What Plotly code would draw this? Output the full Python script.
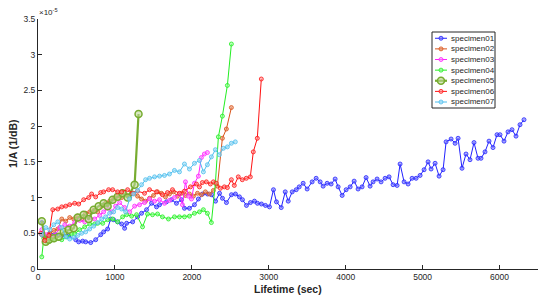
import plotly.graph_objects as go

# values in units of 1e-5 (1/dB); lifetime in seconds
s01_x = [49, 88, 153, 231, 309, 361, 399, 490, 529, 581, 620, 685, 750, 815, 853, 905, 944, 983, 1035, 1087, 1126,
         1152, 1230, 1294, 1346, 1411, 1476, 1541, 1580, 1670, 1735, 1800, 1865, 1904, 1969, 2034, 2085,
         2139, 2204, 2256, 2308, 2360, 2398, 2450, 2515, 2567, 2619, 2658, 2710, 2762, 2814, 2853, 2905, 2957, 3009,
         3061, 3100, 3162, 3214, 3253, 3305, 3357, 3396, 3447, 3499, 3564, 3616, 3668, 3707, 3759, 3811, 3863, 3902,
         3954, 4006, 4058, 4110, 4161, 4213, 4265, 4317, 4356, 4408, 4460, 4512, 4564, 4616, 4668, 4707, 4759, 4811,
         4863, 4915, 4967, 5019, 5071, 5110, 5162, 5214, 5266, 5305, 5370, 5422, 5461, 5512, 5564, 5616, 5668, 5720,
         5759, 5811, 5863, 5915, 5967, 6006, 6058, 6110, 6162, 6214, 6266, 6318]
s01_y = [0.65, 0.45, 0.50, 0.48, 0.47, 0.46, 0.46, 0.41, 0.38, 0.39, 0.38, 0.37, 0.41, 0.48, 0.52, 0.56, 0.70, 0.69, 0.66, 0.63, 0.57,
         0.64, 0.66, 0.73, 0.78, 0.83, 0.92, 0.87, 0.90, 0.94, 0.97, 0.92, 0.97, 0.85, 0.85, 0.90, 0.98,
         1.05, 1.05, 1.04, 0.95, 1.06, 0.99, 0.93, 1.04, 1.05, 1.01, 0.97, 0.89, 0.93, 0.95, 0.92, 0.91, 0.89, 0.87,
         1.11, 0.94, 0.86, 1.08, 0.95, 1.08, 1.11, 1.15, 1.20, 1.12, 1.22, 1.27, 1.22, 1.16, 1.20, 1.19, 1.26, 1.15,
         1.03, 1.11, 1.15, 1.23, 1.12, 1.15, 1.28, 1.16, 1.22, 1.26, 1.22, 1.27, 1.29, 1.18, 1.17, 1.47, 1.22, 1.19,
         1.27, 1.27, 1.31, 1.39, 1.50, 1.40, 1.48, 1.30, 1.39, 1.78, 1.82, 1.76, 1.83, 1.41, 1.61, 1.53, 1.77, 1.55,
         1.55, 1.64, 1.79, 1.70, 1.88, 1.88, 1.79, 1.92, 1.95, 1.86, 2.02, 2.09]

s02_x = [49, 101, 153, 205, 257, 309, 361, 412, 464, 516, 568, 620, 672, 724, 776, 828, 879, 931, 983, 1035, 1087,
         1139, 1191, 1243, 1294, 1346, 1398, 1450, 1502, 1554, 1605, 1657, 1709, 1761, 1813, 1865, 1917, 1969,
         2020, 2073, 2124, 2176, 2228, 2280, 2332, 2397, 2449, 2514]
s02_y = [0.48, 0.45, 0.50, 0.54, 0.56, 0.70, 0.67, 0.72, 0.70, 0.74, 0.70, 0.78, 0.80, 0.82, 0.80, 0.88, 0.92, 0.95, 0.98, 1.02, 1.00,
         1.04, 1.00, 1.06, 1.02, 0.98, 0.95, 0.99, 1.03, 1.08, 1.06, 1.01, 1.05, 1.08, 1.02, 1.06, 1.03, 1.05,
         1.02, 1.06, 1.04, 1.08, 1.05, 1.10, 1.16, 1.83, 1.96, 2.26]

s03_x = [49, 101, 153, 218, 283, 348, 412, 477, 542, 607, 672, 737, 802, 853, 905, 957, 1009, 1061, 1126, 1191,
         1256, 1320, 1385, 1450, 1515, 1580, 1644, 1709, 1774, 1839, 1878, 1917, 1956, 1995, 2034, 2085, 2124, 2163, 2202]
s03_y = [0.55, 0.48, 0.42, 0.47, 0.58, 0.62, 0.60, 0.65, 0.68, 0.66, 0.72, 0.70, 0.75, 0.80, 0.85, 0.80, 0.88, 0.93, 0.86, 0.80,
         0.88, 0.90, 0.93, 0.98, 0.95, 0.97, 0.92, 0.96, 1.00, 1.05, 0.90, 1.22, 1.02, 0.98, 1.20, 1.30, 1.56, 1.61, 1.63]

s04_x = [49, 75, 153, 218, 309, 374, 438, 477, 542, 607, 672, 737, 776, 841, 905, 970, 1035, 1100, 1152, 1217,
         1281, 1359, 1424, 1489, 1554, 1618, 1696, 1774, 1839, 1904, 1969, 2034, 2099, 2150, 2202, 2254, 2306,
         2345, 2397, 2462, 2514]
s04_y = [0.17, 0.43, 0.39, 0.41, 0.41, 0.45, 0.49, 0.49, 0.55, 0.59, 0.63, 0.63, 0.64, 0.64, 0.69, 0.70, 0.66, 0.73, 0.76, 0.74,
         0.76, 0.59, 0.77, 0.76, 0.77, 0.73, 0.70, 0.73, 0.73, 0.73, 0.74, 0.78, 0.80, 0.83, 0.78, 0.65, 1.20,
         1.85, 2.14, 2.57, 3.15]

s05_x = [49, 101, 140, 205, 270, 335, 399, 464, 516, 594, 659, 724, 789, 853, 905, 970, 1035, 1100, 1165, 1256, 1307]
s05_y = [0.67, 0.38, 0.41, 0.43, 0.45, 0.52, 0.55, 0.57, 0.72, 0.76, 0.70, 0.83, 0.88, 0.92, 0.88, 0.97, 1.01, 1.06, 1.00, 1.18, 2.17]

s06_x = [36, 88, 140, 192, 257, 309, 361, 412, 477, 529, 594, 659, 697, 750, 815, 853, 918, 970, 1035, 1087,
         1165, 1230, 1294, 1385, 1450, 1541, 1618, 1683, 1748, 1839, 1904, 1982, 2060, 2099, 2137, 2189, 2241,
         2280, 2319, 2371, 2423, 2462, 2514, 2552, 2604, 2656, 2708, 2760, 2799, 2851, 2903]
s06_y = [0.50, 0.40, 0.47, 0.83, 0.84, 0.87, 0.88, 0.90, 0.92, 0.91, 0.97, 1.00, 1.05, 1.01, 1.07, 1.08, 1.11, 1.11, 1.08, 1.08,
         1.11, 1.06, 1.09, 1.06, 1.11, 1.08, 1.04, 1.07, 1.11, 1.06, 1.09, 1.15, 1.19, 1.15, 1.21, 1.22, 1.19,
         1.22, 1.20, 1.13, 1.15, 1.14, 1.25, 1.17, 1.29, 1.25, 1.27, 1.29, 1.64, 1.83, 2.66]

s07_x = [49, 101, 153, 205, 257, 309, 361, 412, 464, 516, 568, 620, 672, 724, 776, 828, 879, 931, 983, 1035, 1087,
         1139, 1191, 1243, 1294, 1346, 1398, 1450, 1515, 1580, 1644, 1709, 1774, 1839, 1904, 1969, 2034, 2099,
         2150, 2202, 2254, 2306, 2358, 2410, 2462, 2514, 2565]
s07_y = [0.48, 0.58, 0.55, 0.62, 0.66, 0.58, 0.45, 0.42, 0.44, 0.47, 0.50, 0.52, 0.56, 0.60, 0.65, 0.70, 0.73, 0.78, 0.80, 0.86, 0.84,
         0.80, 0.98, 1.05, 1.10, 1.18, 1.25, 1.27, 1.29, 1.30, 1.31, 1.33, 1.38, 1.36, 1.47, 1.40, 1.48, 1.52,
         1.36, 1.46, 1.57, 1.67, 1.60, 1.69, 1.71, 1.76, 1.78]

names = ["specimen01", "specimen02", "specimen03", "specimen04", "specimen05", "specimen06", "specimen07"]
xs = [s01_x, s02_x, s03_x, s04_x, s05_x, s06_x, s07_x]
ys = [s01_y, s02_y, s03_y, s04_y, s05_y, s06_y, s07_y]
colors = ["#2222ff", "#d95319", "#ff22ff", "#22ee22", "#77ac30", "#ff1111", "#4dbeee"]
fills = ["rgba(120,120,255,0.6)", "rgba(230,140,100,0.6)", "rgba(255,140,255,0.6)", "rgba(140,255,140,0.6)",
         "rgba(190,215,150,0.6)", "rgba(255,140,140,0.6)", "rgba(160,220,245,0.6)"]

x_ticks = [0, 1000, 2000, 3000, 4000, 5000, 6000]
y_ticks = [0, 0.5, 1, 1.5, 2, 2.5, 3, 3.5]
y_ticktext = ["0", "0.5", "1", "1.5", "2", "2.5", "3", "3.5"]

TXT = "#262626"
font_family = "Liberation Sans, Arial, sans-serif"

fig = go.Figure()
for i in range(7):
    big = names[i] == "specimen05"
    fig.add_trace(go.Scatter(
        x=xs[i], y=ys[i], name=names[i], mode="lines+markers", showlegend=False,
        line=dict(color=colors[i], width=2.2 if big else 1),
        marker=dict(symbol="circle", size=7 if big else 4, color=fills[i],
                    line=dict(color=colors[i], width=1.5 if big else 0.8)),
    ))

# custom compact legend (MATLAB style), in paper coordinates
shapes = []
annotations = []
lg_x0, lg_x1, lg_y0, lg_y1 = 0.788, 0.914, 0.644, 0.948
shapes.append(dict(type="rect", xref="paper", yref="paper", x0=lg_x0, x1=lg_x1, y0=lg_y0, y1=lg_y1,
                   line=dict(color=TXT, width=1), fillcolor="white", layer="above"))
item_top = 0.923
item_step = 0.0425
for i in range(7):
    big = names[i] == "specimen05"
    yy = item_top - i * item_step
    shapes.append(dict(type="line", xref="paper", yref="paper", x0=0.794, x1=0.818, y0=yy, y1=yy,
                       line=dict(color=colors[i], width=2.2 if big else 1), layer="above"))
    r = 3.5 if big else 2
    shapes.append(dict(type="circle", xref="paper", yref="paper", xsizemode="pixel", ysizemode="pixel",
                       xanchor=0.806, yanchor=yy, x0=-r, x1=r, y0=-r, y1=r,
                       fillcolor=fills[i], line=dict(color=colors[i], width=1.5 if big else 0.8), layer="above"))
    annotations.append(dict(text=names[i], xref="paper", yref="paper", x=0.821, y=yy,
                            xanchor="left", yanchor="middle", showarrow=False,
                            font=dict(size=8, color=TXT)))

annotations.append(dict(text="\u00d710<sup>-5</sup>", xref="paper", yref="paper", x=-0.002, y=1.0,
                        xanchor="left", yanchor="bottom", showarrow=False, font=dict(size=8, color=TXT)))
annotations.append(dict(text="<b>Lifetime (sec)</b>", xref="paper", yref="paper", x=0.5, y=-0.08,
                        xanchor="center", yanchor="middle", showarrow=False, font=dict(size=10.5, color=TXT)))
annotations.append(dict(text="<b>1/A (1/dB)</b>", xref="paper", yref="paper", x=-0.05, y=0.5, textangle=-90,
                        xanchor="center", yanchor="middle", showarrow=False, font=dict(size=10.5, color=TXT)))

fig.update_layout(
    width=538, height=299,
    margin=dict(l=38, r=0, t=19, b=30),
    paper_bgcolor="white", plot_bgcolor="white",
    font=dict(family=font_family, size=8.5, color=TXT),
    showlegend=False,
    xaxis=dict(range=[0, 6500], tickvals=x_ticks, ticks="inside", ticklen=4, automargin=False,
               showline=True, linecolor=TXT, linewidth=1, tickcolor=TXT,
               showgrid=False, zeroline=False, mirror=False, tickfont=dict(size=8.5, color=TXT)),
    yaxis=dict(range=[0, 3.5], tickvals=y_ticks, ticktext=y_ticktext, ticks="inside", ticklen=4, automargin=False,
               showline=True, linecolor=TXT, linewidth=1, tickcolor=TXT,
               showgrid=False, zeroline=False, mirror=False, tickfont=dict(size=8.5, color=TXT)),
    shapes=shapes,
    annotations=annotations,
)

fig.write_html("out.html", config={"displayModeBar": False},
               post_script="document.body.style.margin='0px';document.body.style.overflow='hidden';")
